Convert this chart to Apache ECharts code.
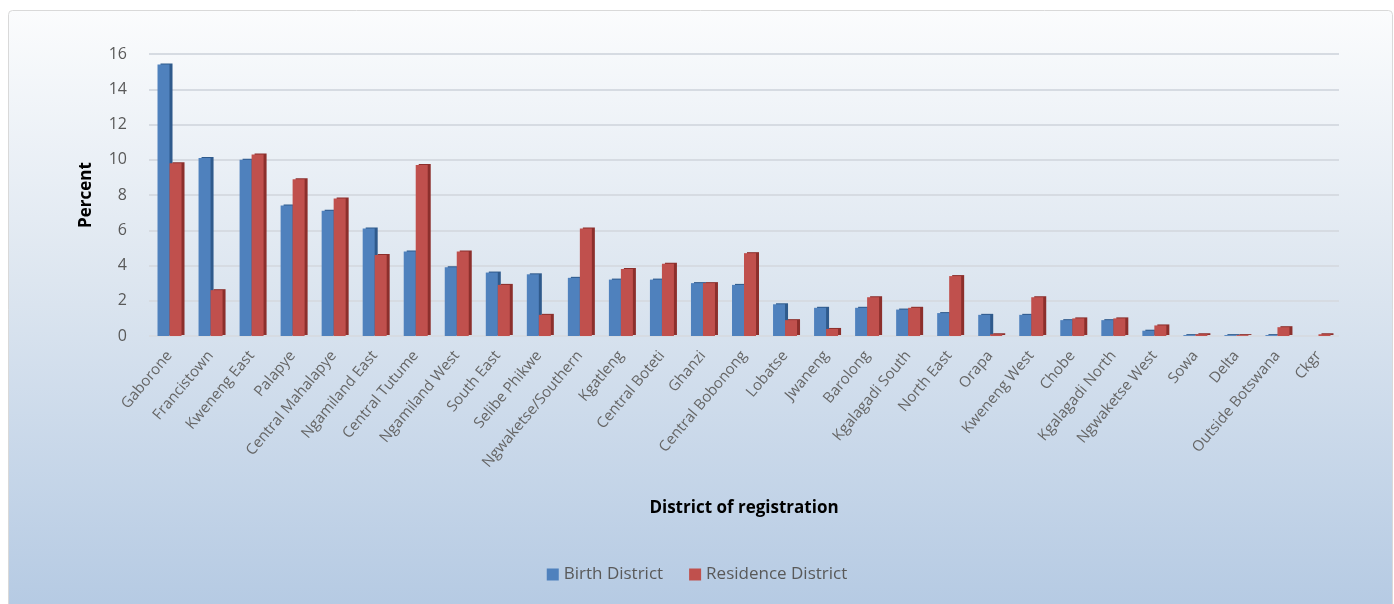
<!DOCTYPE html>
<html>
<head>
<meta charset="utf-8">
<title>District of registration</title>
<script src="https://cdn.jsdelivr.net/npm/echarts@6/dist/echarts.min.js"></script>
<style>
  html, body { margin: 0; padding: 0; background: #fff; }
  #chart { width: 1394px; height: 604px; }
</style>
</head>
<body>
<div id="chart"></div>
<script>
  // district names (x axis)
  var districts = ['Gaborone', 'Francistown', 'Kweneng East', 'Palapye', 'Central Mahalapye',
    'Ngamiland East', 'Central Tutume', 'Ngamiland West', 'South East', 'Selibe Phikwe',
    'Ngwaketse/Southern', 'Kgatleng', 'Central Boteti', 'Ghanzi', 'Central Bobonong',
    'Lobatse', 'Jwaneng', 'Barolong', 'Kgalagadi South', 'North East', 'Orapa',
    'Kweneng West', 'Chobe', 'Kgalagadi North', 'Ngwaketse West', 'Sowa', 'Delta',
    'Outside Botswana', 'Ckgr'];

  // percent values
  var birthDistrict = [15.4, 10.1, 10.0, 7.4, 7.1, 6.1, 4.8, 3.9, 3.6, 3.5,
    3.3, 3.2, 3.2, 3.0, 2.9, 1.8, 1.6, 1.6, 1.5, 1.3, 1.2,
    1.2, 0.9, 0.9, 0.3, 0.05, 0.05, 0.05, 0];
  var residenceDistrict = [9.8, 2.6, 10.3, 8.9, 7.8, 4.6, 9.7, 4.8, 2.9, 1.2,
    6.1, 3.8, 4.1, 3.0, 4.7, 0.9, 0.4, 2.2, 1.6, 3.4, 0.1,
    2.2, 1.0, 1.0, 0.6, 0.1, 0.05, 0.5, 0.1];

  var yTicks = { min: 0, max: 16, interval: 2 };

  var myChart = echarts.init(document.getElementById('chart'));

  var option = {
    animation: false,
    textStyle: { fontFamily: '"Open Sans", "Noto Sans", sans-serif' },
    graphic: [{
      type: 'rect',
      silent: true,
      z: -10,
      shape: { x: 8.5, y: 10.5, width: 1384, height: 600, r: 4 },
      style: {
        fill: new echarts.graphic.LinearGradient(0, 0, 0, 1, [
          { offset: 0, color: '#fbfcfd' },
          { offset: 0.45, color: '#dde6f0' },
          { offset: 1, color: '#b5cae3' }
        ]),
        stroke: '#d9d9d9',
        lineWidth: 1
      }
    }],
    legend: {
      bottom: 16,
      left: 'center',
      itemWidth: 12,
      itemHeight: 12,
      itemGap: 26,
      icon: 'rect',
      textStyle: { color: '#595959', fontSize: 17 },
      data: ['Birth District', 'Residence District']
    },
    grid: { left: 149, right: 55, top: 54, bottom: 268 },
    xAxis: {
      type: 'category',
      data: districts,
      name: 'District of registration',
      nameLocation: 'middle',
      nameGap: 164,
      nameTextStyle: { color: '#000', fontWeight: 'bold', fontSize: 17 },
      axisLine: { show: false },
      axisTick: { show: false },
      axisLabel: { rotate: 50, color: '#666', fontSize: 15, interval: 0, margin: 17 }
    },
    yAxis: {
      type: 'value',
      min: yTicks.min,
      max: yTicks.max,
      interval: yTicks.interval,
      name: 'Percent',
      nameLocation: 'middle',
      nameGap: 54,
      nameTextStyle: { color: '#000', fontWeight: 'bold', fontSize: 17 },
      axisLine: { show: false },
      axisTick: { show: false },
      axisLabel: { color: '#595959', fontSize: 16, margin: 22 },
      splitLine: { lineStyle: { color: '#d6dbe2', width: 2 } }
    },
    series: [{
      name: 'Birth District',
      type: 'bar',
      data: birthDistrict,
      barWidth: 12,
      barGap: '0%',
      itemStyle: {
        color: '#4f81bd',
        shadowColor: '#2f5a8c',
        shadowOffsetX: 3,
        shadowOffsetY: -1,
        shadowBlur: 0
      }
    }, {
      name: 'Residence District',
      type: 'bar',
      data: residenceDistrict,
      barWidth: 12,
      itemStyle: {
        color: '#c0504d',
        shadowColor: '#8c2f2c',
        shadowOffsetX: 3,
        shadowOffsetY: -1,
        shadowBlur: 0
      }
    }]
  };

  myChart.setOption(option);
</script>
</body>
</html>
